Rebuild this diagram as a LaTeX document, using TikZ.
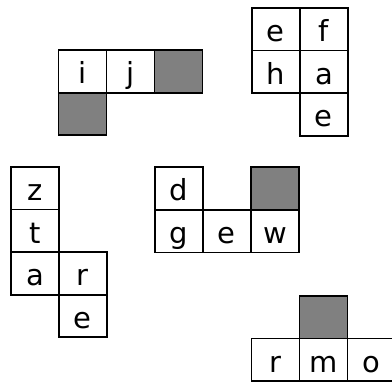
\documentclass[tikz,border=0pt]{standalone}
\usepackage{fontspec}
\setmainfont{DejaVu Sans}
\tikzset{
  cellbox/.style={draw=black, line width=1.8pt, minimum width=48pt, minimum height=42.6pt,
    inner sep=0pt, anchor=north west, text height=33.6pt, text depth=9pt,
    font=\fontsize{29}{30}\selectfont},
  graybox/.style={cellbox, fill=black!50}
}
\begin{document}
\begin{tikzpicture}[x=1pt,y=-1pt]
\useasboundingbox (0,0) rectangle (392,382);
% group 1
\node[cellbox] (gAi) at (57.5,49.3) {i};
\node[cellbox] (gAj) at (105.5,49.3) {j};
\node[graybox] (gAs1) at (153.5,49.3) {};
\node[graybox] (gAs2) at (57.5,91.9) {};
% group 2
\node[cellbox] (gBe) at (251,7) {e};
\node[cellbox] (gBf) at (299,7) {f};
\node[cellbox] (gBh) at (251,49.6) {h};
\node[cellbox] (gBa) at (299,49.6) {a};
\node[cellbox] (gBe2) at (299,92.2) {e};
% group 3
\node[cellbox] (gCz) at (10,166) {z};
\node[cellbox] (gCt) at (10,208.6) {t};
\node[cellbox] (gCa) at (10,251.2) {a};
\node[cellbox] (gCr) at (58,251.2) {r};
\node[cellbox] (gCe) at (58,293.8) {e};
% group 4
\node[cellbox] (gDd) at (154,166.5) {d};
\node[graybox] (gDs) at (250,166.5) {};
\node[cellbox] (gDg) at (154,209.1) {g};
\node[cellbox] (gDe) at (202,209.1) {e};
\node[cellbox] (gDw) at (250,209.1) {w};
% group 5
\node[graybox] (gEs) at (298.5,295) {};
\node[cellbox] (gEr) at (250.5,337.6) {r};
\node[cellbox] (gEm) at (298.5,337.6) {m};
\node[cellbox] (gEo) at (346.5,337.6) {o};
\end{tikzpicture}
\end{document}
